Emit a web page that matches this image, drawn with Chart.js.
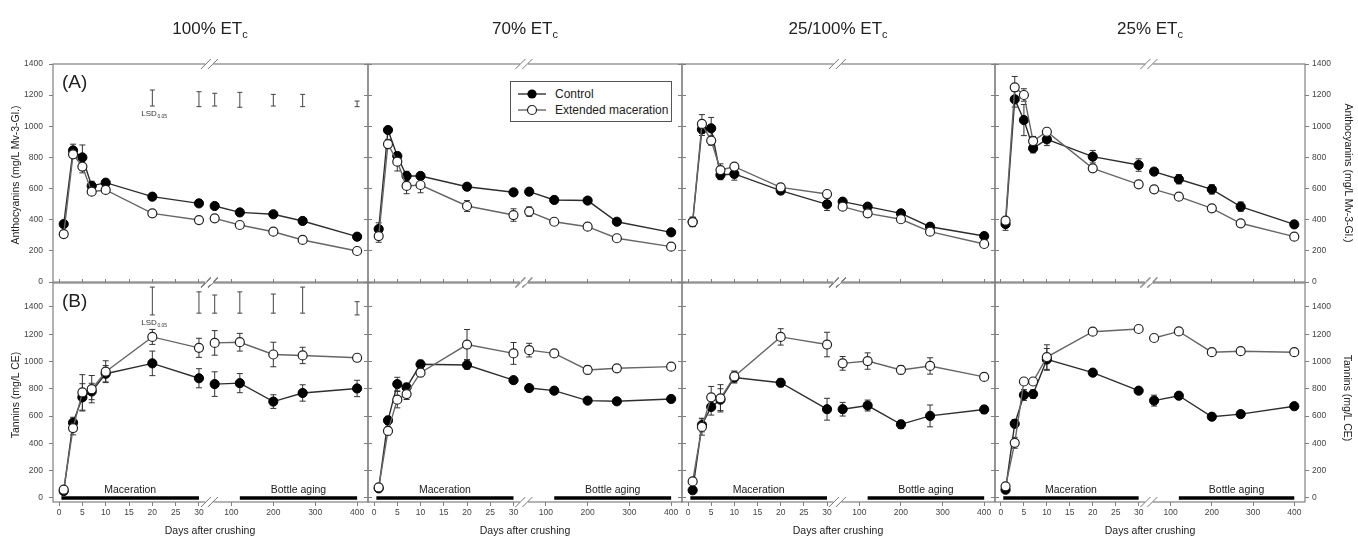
<!DOCTYPE html>
<html><head><meta charset="utf-8">
<script src="https://cdn.jsdelivr.net/npm/chart.js@4.4.0/dist/chart.umd.min.js"></script>
<style>
html,body{margin:0;padding:0;background:#fff;}
#wrap{position:relative;width:1358px;height:539px;overflow:hidden;font-family:"Liberation Sans",Arial,sans-serif;color:#222;}
canvas{position:absolute;left:0;top:0;}
.t{position:absolute;white-space:nowrap;line-height:1;}
.ptitle{font-size:17px;top:20px;transform:translateX(-50%);}
.ptitle sub{font-size:11px;vertical-align:-4px;line-height:0;}
.xt{font-size:10.5px;top:525px;transform:translateX(-50%);}
.yl{font-size:10.5px;transform:translate(-50%,-50%) rotate(-90deg);}
.yr{font-size:10.5px;transform:translate(-50%,-50%) rotate(90deg);}
#legend{position:absolute;left:510px;top:81px;width:160px;height:39px;border:1px solid #555;background:#fff;font-size:12px;}
#legend .lr{position:absolute;left:6px;height:14px;display:flex;align-items:center;}
#legend .lr span{margin-left:8px;}
</style></head>
<body>
<div id="wrap">
<canvas id="c0" width="1358" height="539"></canvas>
<canvas id="c1" width="1358" height="539"></canvas>
<canvas id="c2" width="1358" height="539"></canvas>
<canvas id="c3" width="1358" height="539"></canvas>
<canvas id="c4" width="1358" height="539"></canvas>
<canvas id="c5" width="1358" height="539"></canvas>
<canvas id="c6" width="1358" height="539"></canvas>
<canvas id="c7" width="1358" height="539"></canvas>
<div class="t ptitle" style="left:210px">100% ET<sub>c</sub></div>
<div class="t ptitle" style="left:525px">70% ET<sub>c</sub></div>
<div class="t ptitle" style="left:838px">25/100% ET<sub>c</sub></div>
<div class="t ptitle" style="left:1150px">25% ET<sub>c</sub></div>
<div class="t xt" style="left:210px">Days after crushing</div>
<div class="t xt" style="left:525px">Days after crushing</div>
<div class="t xt" style="left:838px">Days after crushing</div>
<div class="t xt" style="left:1150px">Days after crushing</div>
<div class="t yl" style="left:15px;top:175px">Anthocyanins (mg/L Mv-3-Gl.)</div>
<div class="t yl" style="left:15px;top:395px">Tannins (mg/L CE)</div>
<div class="t yr" style="left:1349px;top:173px">Anthocyanins (mg/L Mv-3-Gl.)</div>
<div class="t yr" style="left:1348px;top:398px">Tannins (mg/L CE)</div>
<div id="legend">
  <div class="lr" style="top:5px"><svg width="30" height="12"><line x1="1" y1="6" x2="29" y2="6" stroke="#333" stroke-width="1.4"/><circle cx="15" cy="6" r="4.6" fill="#000"/></svg><span>Control</span></div>
  <div class="lr" style="top:21px"><svg width="30" height="12"><line x1="1" y1="6" x2="29" y2="6" stroke="#666" stroke-width="1.4"/><circle cx="15" cy="6" r="4.5" fill="#fff" stroke="#222" stroke-width="1.2"/></svg><span>Extended maceration</span></div>
</div>
</div>
<script>
// ---------------- DATA ----------------
const DAYS = [1, 3, 5, 7, 10, 20, 30, 60, 120, 200, 270, 400];
const X_TICKS = [0, 5, 10, 15, 20, 25, 30, 100, 200, 300, 400];
const Y_TICKS = [0, 200, 400, 600, 800, 1000, 1200, 1400];

// (A) Anthocyanins (mg/L Mv-3-Gl.)
const anthoCtrl100    = [372, 845, 800, 617, 638, 548, 505, 488, 447, 435, 392, 291];
const anthoExt100     = [308, 820, 741, 580, 591, 441, 398, 409, 366, 323, 270, 199];
const anthoCtrl70     = [340, 976, 809, 681, 681, 612, 576, 580, 527, 523, 387, 319];
const anthoExt70      = [295, 886, 773, 617, 623, 488, 430, 452, 387, 355, 281, 227];
const anthoCtrl25_100 = [387, 981, 987, 687, 694, 587, 499, 516, 484, 441, 355, 295];
const anthoExt25_100  = [385, 1015, 908, 719, 741, 608, 565, 484, 441, 403, 323, 244];
const anthoCtrl25     = [372, 1173, 1040, 859, 916, 805, 751, 709, 660, 595, 484, 370];
const anthoExt25      = [394, 1250, 1201, 905, 965, 730, 627, 595, 548, 473, 377, 291];

const anthoCtrl100Err    = [20, 40, 80, 30, 20, 15, 15, 15, 15, 15, 15, 15];
const anthoExt100Err     = [15, 20, 40, 20, 20, 15, 15, 15, 15, 15, 15, 10];
const anthoCtrl70Err     = [40, 20, 20, 30, 20, 20, 20, 20, 20, 15, 15, 15];
const anthoExt70Err      = [40, 30, 60, 50, 50, 35, 40, 30, 20, 15, 15, 15];
const anthoCtrl25_100Err = [30, 40, 70, 30, 40, 20, 40, 20, 20, 20, 20, 20];
const anthoExt25_100Err  = [30, 60, 30, 40, 20, 20, 20, 20, 20, 20, 20, 20];
const anthoCtrl25Err     = [40, 50, 100, 30, 40, 40, 40, 20, 30, 30, 30, 20];
const anthoExt25Err      = [20, 70, 40, 30, 20, 20, 20, 20, 20, 20, 20, 20];

// (B) Tannins (mg/L CE)
const tanCtrl100    = [50, 551, 737, 780, 910, 986, 877, 834, 841, 706, 769, 802];
const tanExt100     = [60, 512, 773, 797, 925, 1180, 1100, 1136, 1141, 1051, 1044, 1027];
const tanCtrl70     = [70, 568, 834, 810, 979, 974, 863, 805, 786, 713, 708, 725];
const tanExt70      = [77, 491, 720, 761, 918, 1124, 1059, 1083, 1059, 938, 950, 962];
const tanCtrl25_100 = [56, 534, 667, 720, 882, 844, 650, 650, 677, 539, 601, 648];
const tanExt25_100  = [121, 520, 737, 730, 890, 1180, 1124, 986, 1003, 938, 967, 887];
const tanCtrl25     = [60, 544, 754, 761, 1015, 918, 786, 713, 749, 595, 614, 672];
const tanExt25      = [85, 404, 853, 853, 1032, 1218, 1238, 1172, 1220, 1068, 1075, 1068];

const tanCtrl100Err    = [10, 40, 100, 60, 60, 90, 70, 90, 70, 50, 60, 60];
const tanExt100Err     = [10, 50, 130, 100, 80, 55, 70, 90, 65, 90, 60, 20];
const tanCtrl70Err     = [10, 30, 50, 30, 30, 30, 20, 20, 20, 20, 20, 20];
const tanExt70Err      = [10, 30, 60, 40, 30, 110, 80, 50, 20, 30, 20, 20];
const tanCtrl25_100Err = [10, 50, 60, 80, 40, 30, 80, 50, 40, 30, 80, 30];
const tanExt25_100Err  = [20, 60, 80, 100, 40, 60, 90, 50, 60, 30, 60, 20];
const tanCtrl25Err     = [10, 30, 40, 30, 80, 20, 20, 40, 20, 20, 20, 20];
const tanExt25Err      = [10, 40, 20, 20, 90, 20, 20, 20, 20, 20, 20, 20];

// LSD(0.05) bars, 100% ETc panels
const LSD_DAYS     = [20, 30, 60, 120, 200, 270, 400];
const lsdAnthoLow  = [1130, 1126, 1130, 1122, 1130, 1126, 1126];
const lsdAnthoHigh = [1233, 1222, 1212, 1218, 1205, 1205, 1162];
const lsdTanLow    = [1341, 1354, 1354, 1354, 1354, 1354, 1341];
const lsdTanHigh   = [1545, 1510, 1487, 1510, 1494, 1545, 1438];

// phases (days)
const MACERATION_DAYS = [0.5, 30];
const BOTTLE_DAYS = [120, 400];

// ---------------- BROKEN X SCALE ----------------
const SEG1 = [-1.3, 32], SEG2 = [50, 426], F1 = 0.493, F2 = 0.5, BREAK_VALUE = 41;
class BrokenScale extends Chart.LinearScale {
  static id = 'broken';
  static defaults = {};
  buildTicks() { return X_TICKS.map(v => ({ value: v })); }
  _dec(v) {
    if (v <= SEG1[1]) return (v - SEG1[0]) / (SEG1[1] - SEG1[0]) * F1;
    if (v >= SEG2[0]) return F2 + (v - SEG2[0]) / (SEG2[1] - SEG2[0]) * (1 - F2);
    return F1 + (v - SEG1[1]) / (SEG2[0] - SEG1[1]) * (F2 - F1);
  }
  getPixelForValue(v) {
    if (v === null || v === undefined || isNaN(v)) return NaN;
    return this.getPixelForDecimal(this._dec(v));
  }
  getValueForPixel(p) {
    const d = this.getDecimalForPixel(p);
    if (d <= F1) return SEG1[0] + d / F1 * (SEG1[1] - SEG1[0]);
    if (d >= F2) return SEG2[0] + (d - F2) / (1 - F2) * (SEG2[1] - SEG2[0]);
    return SEG1[1] + (d - F1) / (F2 - F1) * (SEG2[0] - SEG1[1]);
  }
}
Chart.register(BrokenScale);

Chart.defaults.font.family = '"Liberation Sans", Arial, sans-serif';
Chart.defaults.animation = false;

const COLS = [[53, 368], [368, 682], [682, 995], [995, 1305]];
const ROWS = [[64, 282], [283, 502]];
const FONT = '"Liberation Sans", Arial, sans-serif';
const LABEL_BOX = 40, XLABEL_BOX = 20;

const PANELS = [
  [anthoCtrl100, anthoExt100, anthoCtrl100Err, anthoExt100Err],
  [anthoCtrl70, anthoExt70, anthoCtrl70Err, anthoExt70Err],
  [anthoCtrl25_100, anthoExt25_100, anthoCtrl25_100Err, anthoExt25_100Err],
  [anthoCtrl25, anthoExt25, anthoCtrl25Err, anthoExt25Err],
  [tanCtrl100, tanExt100, tanCtrl100Err, tanExt100Err],
  [tanCtrl70, tanExt70, tanCtrl70Err, tanExt70Err],
  [tanCtrl25_100, tanExt25_100, tanCtrl25_100Err, tanExt25_100Err],
  [tanCtrl25, tanExt25, tanCtrl25Err, tanExt25Err]
];

function deco(row, col) {
  return {
    id: 'deco',
    beforeDatasetsDraw(chart) {
      const { ctx, scales: { x, y } } = chart;
      ctx.save();
      ctx.strokeStyle = '#333'; ctx.lineWidth = 1;
      chart.data.datasets.forEach(ds => {
        if (!ds.err) return;
        ds.data.forEach((p, i) => {
          const e = ds.err[i]; if (!e) return;
          const px = x.getPixelForValue(p.x), y1 = y.getPixelForValue(p.y - e), y2 = y.getPixelForValue(p.y + e);
          ctx.beginPath();
          ctx.moveTo(px, y1); ctx.lineTo(px, y2);
          ctx.moveTo(px - 3, y1); ctx.lineTo(px + 3, y1);
          ctx.moveTo(px - 3, y2); ctx.lineTo(px + 3, y2);
          ctx.stroke();
        });
      });
      if (col === 0) {
        const lo = row === 0 ? lsdAnthoLow : lsdTanLow, hi = row === 0 ? lsdAnthoHigh : lsdTanHigh;
        ctx.strokeStyle = '#444';
        LSD_DAYS.forEach((d, i) => {
          const px = x.getPixelForValue(d), y1 = y.getPixelForValue(lo[i]), y2 = y.getPixelForValue(hi[i]);
          ctx.beginPath();
          ctx.moveTo(px, y1); ctx.lineTo(px, y2);
          ctx.moveTo(px - 2.5, y1); ctx.lineTo(px + 2.5, y1);
          ctx.moveTo(px - 2.5, y2); ctx.lineTo(px + 2.5, y2);
          ctx.stroke();
        });
        const lx = x.getPixelForValue(LSD_DAYS[0]) - 11, ly = y.getPixelForValue(lo[0]) + 10;
        ctx.fillStyle = '#333';
        ctx.font = '8px ' + FONT; ctx.textAlign = 'left'; ctx.textBaseline = 'alphabetic';
        ctx.fillText('LSD', lx, ly);
        const w = ctx.measureText('LSD').width;
        ctx.font = '5px ' + FONT;
        ctx.fillText('0.05', lx + w + 0.5, ly + 2);
      }
      ctx.restore();
    },
    afterDraw(chart) {
      const { ctx, chartArea: a, scales: { x, y } } = chart;
      ctx.save();
      ctx.strokeStyle = '#808080'; ctx.lineWidth = 1.2;
      ctx.strokeRect(a.left, a.top, a.right - a.left, a.bottom - a.top);
      const bx = x.getPixelForValue(BREAK_VALUE);
      [a.top, a.bottom].forEach(ey => {
        ctx.fillStyle = '#fff';
        ctx.fillRect(bx - 4, ey - 1.5, 8, 3);
        ctx.strokeStyle = '#777'; ctx.lineWidth = 1;
        ctx.beginPath();
        [-3.5, 3.5].forEach(o => { ctx.moveTo(bx + o - 5, ey + 5); ctx.lineTo(bx + o + 5, ey - 5); });
        ctx.stroke();
      });
      ctx.fillStyle = '#222'; ctx.textBaseline = 'alphabetic';
      if (col === 0) {
        ctx.font = '19px ' + FONT; ctx.textAlign = 'left';
        ctx.fillText(row === 0 ? '(A)' : '(B)', a.left + 9, a.top + 24);
      }
      if (row === 1) {
        ctx.font = '10.5px ' + FONT; ctx.textAlign = 'center';
        const y0 = y.getPixelForValue(0) - 5;
        ctx.fillText('Maceration', (x.getPixelForValue(MACERATION_DAYS[0]) + x.getPixelForValue(MACERATION_DAYS[1])) / 2, y0);
        ctx.fillText('Bottle aging', (x.getPixelForValue(BOTTLE_DAYS[0]) + x.getPixelForValue(BOTTLE_DAYS[1])) / 2, y0);
      }
      ctx.restore();
    }
  };
}

function makeChart(idx) {
  const row = idx < 4 ? 0 : 1, col = idx % 4;
  const [L, R] = COLS[col], [T, B] = ROWS[row];
  const [ctrl, ext, ctrlErr, extErr] = PANELS[idx];
  const brk = c => (c.p0.parsed.x < BREAK_VALUE && c.p1.parsed.x > BREAK_VALUE) ? 'rgba(0,0,0,0)' : undefined;
  const datasets = [
    { label: 'Control', data: DAYS.map((d, i) => ({ x: d, y: ctrl[i] })), err: ctrlErr, order: 2,
      borderColor: '#2e2e2e', borderWidth: 1.4, pointRadius: 4.6, pointBorderWidth: 1,
      pointBackgroundColor: '#000', pointBorderColor: '#000', segment: { borderColor: brk } },
    { label: 'Extended maceration', data: DAYS.map((d, i) => ({ x: d, y: ext[i] })), err: extErr, order: 1,
      borderColor: '#666', borderWidth: 1.4, pointRadius: 4.5, pointBorderWidth: 1.2,
      pointBackgroundColor: '#fff', pointBorderColor: '#222', segment: { borderColor: brk } }
  ];
  if (row === 1) {
    [MACERATION_DAYS, BOTTLE_DAYS].forEach(p => datasets.push({
      label: 'phase', data: p.map(d => ({ x: d, y: 0 })), order: 3,
      borderColor: '#000', borderWidth: 3.5, pointRadius: 0, borderCapStyle: 'butt'
    }));
  }
  datasets.forEach(d => { d.xAxisID = 'x'; d.yAxisID = 'y'; d.tension = 0; d.fill = false; });
  const yMin = row === 0 ? 0 : -30, yMax = row === 0 ? 1400 : 1575;
  const tickFont = { size: 8.5 };
  const showLeft = col === 0, showRight = col === 3, showX = row === 1;
  const yAxis = (pos, show) => ({
    type: 'linear', position: pos, min: yMin, max: yMax,
    afterBuildTicks: s => { s.ticks = Y_TICKS.map(v => ({ value: v })); },
    afterFit: s => { s.width = show ? LABEL_BOX : 0; },
    ticks: { display: show, font: tickFont, color: '#444', padding: pos === 'left' ? 6 : 3, callback: v => String(v) },
    grid: { display: true, drawOnChartArea: false, drawTicks: true, tickLength: 4, color: '#808080' },
    border: { display: false }
  });
  const scales = {
    x: { type: 'broken', position: 'bottom', min: SEG1[0], max: SEG2[1],
      afterFit: s => { s.height = showX ? XLABEL_BOX : 0; },
      ticks: { display: showX, autoSkip: false, maxRotation: 0, minRotation: 0, padding: 2, font: tickFont, color: '#444', callback: v => String(v) },
      grid: { display: showX, drawOnChartArea: false, drawTicks: true, tickLength: 4, color: '#808080' },
      border: { display: false } },
    y: yAxis('left', showLeft),
    y2: yAxis('right', showRight)
  };
  if (row === 1) {
    scales.x2 = { type: 'broken', position: 'top', min: SEG1[0], max: SEG2[1],
      afterFit: s => { s.height = 0; },
      ticks: { display: false },
      grid: { display: true, drawOnChartArea: false, drawTicks: true, tickLength: 4, color: '#808080' },
      border: { display: false } };
  }
  const pad = {
    left: L - (showLeft ? LABEL_BOX : 0),
    right: 1358 - R - (showRight ? LABEL_BOX : 0),
    top: T,
    bottom: 539 - B - (showX ? XLABEL_BOX : 0)
  };
  new Chart(document.getElementById('c' + idx), {
    type: 'line',
    data: { datasets },
    options: {
      responsive: false, animation: false, events: [],
      layout: { padding: pad },
      plugins: { legend: { display: false }, tooltip: { enabled: false }, title: { display: false } },
      scales
    },
    plugins: [deco(row, col)]
  });
}
for (let i = 0; i < 8; i++) makeChart(i);
</script>
</body></html>
